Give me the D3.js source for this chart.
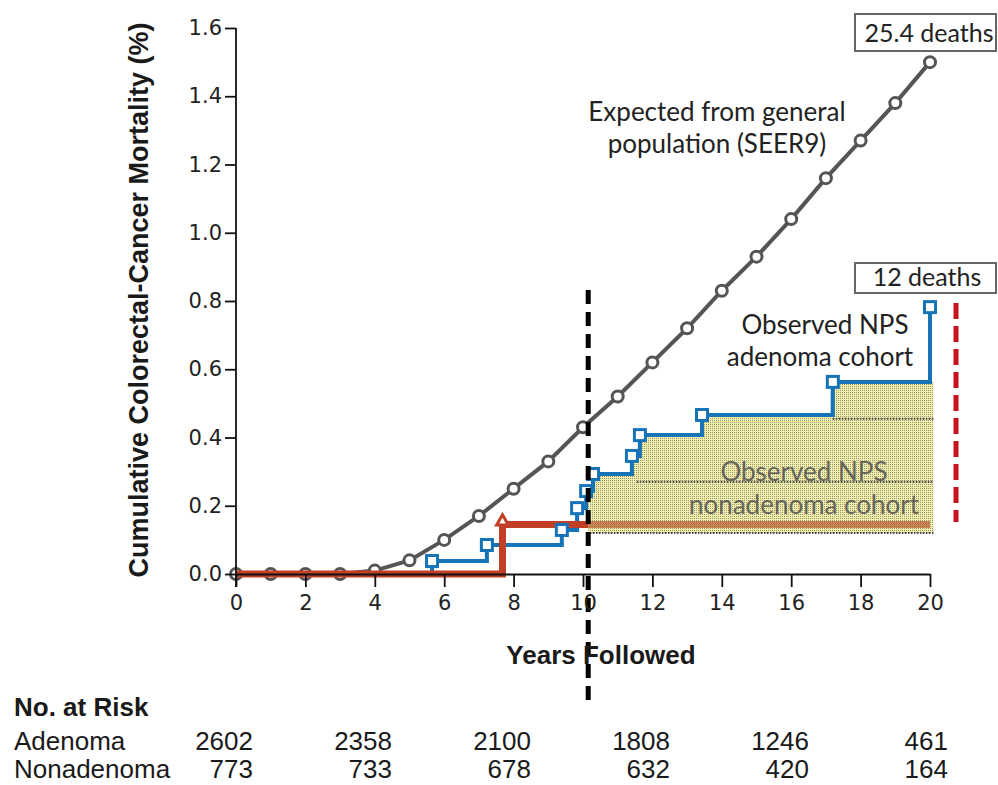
<!DOCTYPE html>
<html>
<head>
<meta charset="utf-8">
<script src="https://cdn.jsdelivr.net/npm/d3@7"></script>
<style>
  body { margin: 0; background: #fff; }
  svg { display: block; }
  .tick text { font-family: "DejaVu Sans", sans-serif; font-size: 21px; fill: #222; }
  .note { font-family: "Lato", sans-serif; font-size: 26px; fill: #222; }
  .cond { font-family: "Liberation Sans Narrow", "Liberation Sans", sans-serif; fill: #1a1a1a; }
</style>
</head>
<body>
<div class="graph"></div>
<script>
// Expected mortality from general population (SEER9), yearly
let expectedYears = [0, 1, 2, 3, 4, 5, 6, 7, 8, 9, 10, 11, 12, 13, 14, 15, 16, 17, 18, 19, 20];
let expectedValues = [0, 0, 0, 0, 0.01, 0.04, 0.10, 0.17, 0.25, 0.33, 0.43, 0.52, 0.62, 0.72, 0.83, 0.93, 1.04, 1.16, 1.27, 1.38, 1.50];

// Observed NPS adenoma cohort (step function, new level starts at each year)
let adenomaYears = [0, 5.65, 7.23, 9.39, 9.83, 10.09, 10.29, 11.41, 11.64, 13.43, 17.20, 20.0];
let adenomaValues = [0, 0.038, 0.085, 0.129, 0.193, 0.243, 0.293, 0.346, 0.407, 0.466, 0.563, 0.782];

// Observed NPS nonadenoma cohort
let nonadenomaYears = [0, 7.68, 20.0];
let nonadenomaValues = [0, 0.145, 0.145];

// Hatched band after the landmark
let landmarkYear = 10.15;
let bandEndYear = 20.1;
let bandBottom = 0.12;
let bandLineStarts = [10.2, 11.55, 17.2];
let bandLineLevels = [0.12, 0.27, 0.455];

let cutoffYear = 20.75;

// Axis ticks
let xTicks = [0, 2, 4, 6, 8, 10, 12, 14, 16, 18, 20];
let yTicks = [0, 0.2, 0.4, 0.6, 0.8, 1.0, 1.2, 1.4, 1.6];

// Number at risk table
let riskYears = [0, 4, 8, 12, 16, 20];
let riskAdenoma = [2602, 2358, 2100, 1808, 1246, 461];
let riskNonadenoma = [773, 733, 678, 632, 420, 164];

let width = 998;
let height = 785;

let svg = d3.select(".graph").append("svg")
  .attr("width", width)
  .attr("height", height);

let x = d3.scaleLinear().domain([0, 20]).range([236, 930]);
let y = d3.scaleLinear().domain([0, 1.6]).range([574, 28]);

// hatch pattern
let defs = svg.append("defs");
let pat = defs.append("pattern")
  .attr("id", "hatch")
  .attr("patternUnits", "userSpaceOnUse")
  .attr("width", 2).attr("height", 2);
pat.append("rect").attr("width", 2).attr("height", 2).attr("fill", "#f0ec9c").attr("opacity", 0.85);
pat.append("rect").attr("x", 0).attr("y", 0).attr("width", 1).attr("height", 1).attr("fill", "#6f6f60").attr("opacity", 0.7);

defs.append("clipPath").attr("id", "afterLandmark")
  .append("rect")
  .attr("x", x(landmarkYear)).attr("y", 0)
  .attr("width", width - x(landmarkYear)).attr("height", height);

let adenoma = adenomaYears.map((t, i) => ({ t: t, v: adenomaValues[i] }));
let nonadenoma = nonadenomaYears.map((t, i) => ({ t: t, v: nonadenomaValues[i] }));
let expected = expectedYears.map((t, i) => ({ t: t, v: expectedValues[i] }));

let stepLine = d3.line()
  .x(d => x(d.t))
  .y(d => y(d.v))
  .curve(d3.curveStepAfter);

// expected line
svg.append("path")
  .datum(expected)
  .attr("fill", "none")
  .attr("stroke", "#555")
  .attr("stroke-width", 4)
  .attr("d", d3.line().x(d => x(d.t)).y(d => y(d.v)));

svg.selectAll(".exp-pt")
  .data(expected)
  .join("circle")
  .attr("class", "exp-pt")
  .attr("cx", d => x(d.t))
  .attr("cy", d => y(d.v))
  .attr("r", 5.5)
  .attr("fill", "#fff")
  .attr("stroke", "#555")
  .attr("stroke-width", 3);

// adenoma step (under red)
svg.append("path")
  .datum(adenoma)
  .attr("fill", "none")
  .attr("stroke", "#1673b8")
  .attr("stroke-width", 4)
  .attr("d", stepLine);

// nonadenoma step
svg.append("path")
  .datum(nonadenoma)
  .attr("fill", "none")
  .attr("stroke", "#c23f27")
  .attr("stroke-width", 7)
  .attr("d", stepLine);

// hatched band: from landmark to end, under adenoma step
let bandTop = adenoma.filter(d => d.t > landmarkYear && d.t < 20);
let bandData = [{ t: landmarkYear, v: adenoma.filter(d => d.t <= landmarkYear).pop().v }]
  .concat(bandTop)
  .concat([{ t: bandEndYear, v: bandTop[bandTop.length - 1].v }]);

svg.append("path")
  .datum(bandData)
  .attr("fill", "url(#hatch)")
  .attr("d", d3.area()
    .x(d => x(d.t))
    .y0(y(bandBottom))
    .y1(d => y(d.v))
    .curve(d3.curveStepAfter));

// nonadenoma line seen through the hatch
svg.append("path")
  .datum(nonadenoma)
  .attr("clip-path", "url(#afterLandmark)")
  .attr("fill", "none")
  .attr("stroke", "#b5552e")
  .attr("stroke-width", 7)
  .attr("opacity", 0.6)
  .attr("d", stepLine);

svg.selectAll(".band-line")
  .data(bandLineLevels)
  .join("line")
  .attr("class", "band-line")
  .attr("x1", (d, i) => x(bandLineStarts[i]))
  .attr("x2", x(bandEndYear))
  .attr("y1", d => y(d))
  .attr("y2", d => y(d))
  .attr("stroke", "#444")
  .attr("stroke-width", 2)
  .attr("stroke-dasharray", "1.5,1.5");

// nonadenoma label inside band
svg.append("text")
  .attr("class", "note")
  .attr("x", 804).attr("y", 481)
  .attr("text-anchor", "middle")
  .style("fill", "#66655a")
  .text("Observed NPS");
svg.append("text")
  .attr("class", "note")
  .attr("x", 804).attr("y", 514)
  .attr("text-anchor", "middle")
  .style("fill", "#66655a")
  .text("nonadenoma cohort");

// adenoma line again on top of the band
svg.append("path")
  .datum(adenoma)
  .attr("clip-path", "url(#afterLandmark)")
  .attr("fill", "none")
  .attr("stroke", "#1673b8")
  .attr("stroke-width", 4)
  .attr("d", stepLine);

svg.selectAll(".aden-pt")
  .data(adenoma.slice(1))
  .join("rect")
  .attr("class", "aden-pt")
  .attr("x", d => x(d.t) - 5.5)
  .attr("y", d => y(d.v) - 5.5)
  .attr("width", 11)
  .attr("height", 11)
  .attr("fill", "#fff")
  .attr("stroke", "#1673b8")
  .attr("stroke-width", 3);

// triangle marker on nonadenoma
svg.selectAll(".non-pt")
  .data(nonadenoma.slice(1, 2))
  .join("path")
  .attr("class", "non-pt")
  .attr("transform", d => "translate(" + x(d.t) + "," + (y(d.v) - 3) + ")")
  .attr("d", d3.symbol(d3.symbolTriangle, 60))
  .attr("fill", "#fff")
  .attr("stroke", "#c23f27")
  .attr("stroke-width", 3);

// landmark dashed line
svg.append("line")
  .attr("x1", x(landmarkYear)).attr("x2", x(landmarkYear))
  .attr("y1", 290).attr("y2", 706)
  .attr("stroke", "#000")
  .attr("stroke-width", 5)
  .attr("stroke-dasharray", "14,8");

// red cutoff dashed line
svg.append("line")
  .attr("x1", x(cutoffYear)).attr("x2", x(cutoffYear))
  .attr("y1", 303).attr("y2", 522)
  .attr("stroke", "#c8111b")
  .attr("stroke-width", 5)
  .attr("stroke-dasharray", "16,7");

// axes
let yAxis = svg.append("g")
  .attr("transform", "translate(" + x(0) + ",0)")
  .call(d3.axisLeft(y).tickValues(yTicks).tickFormat(d3.format(".1f")).tickSize(11).tickSizeOuter(0).tickPadding(3));
yAxis.select(".domain").attr("d", "M0," + (y(0) + 13) + "V" + y(1.6));

let xAxis = svg.append("g")
  .attr("transform", "translate(0," + y(0) + ")")
  .call(d3.axisBottom(x).tickValues(xTicks).tickSize(13).tickSizeOuter(0).tickPadding(8));

svg.selectAll(".domain, .tick line").attr("stroke", "#111").attr("stroke-width", 1.8);
svg.selectAll(".tick text").attr("font-size", null).attr("font-family", null);

// axis titles
svg.append("text")
  .attr("class", "cond")
  .attr("transform", "translate(148,300) rotate(-90)")
  .attr("text-anchor", "middle")
  .attr("font-size", 27)
  .attr("font-weight", "bold")
  .text("Cumulative Colorectal-Cancer Mortality (%)");

svg.append("text")
  .attr("class", "cond")
  .attr("x", 601).attr("y", 664)
  .attr("text-anchor", "middle")
  .attr("font-size", 26)
  .attr("font-weight", "bold")
  .text("Years Followed");

// annotations
svg.append("text").attr("class", "note")
  .attr("x", 717).attr("y", 121).attr("text-anchor", "middle")
  .text("Expected from general");
svg.append("text").attr("class", "note")
  .attr("x", 717).attr("y", 153).attr("text-anchor", "middle")
  .text("population (SEER9)");

svg.append("text").attr("class", "note")
  .attr("x", 825).attr("y", 334).attr("text-anchor", "middle")
  .text("Observed NPS");
svg.append("text").attr("class", "note")
  .attr("x", 820).attr("y", 366).attr("text-anchor", "middle")
  .text("adenoma cohort");

svg.append("rect")
  .attr("x", 855).attr("y", 14).attr("width", 141).attr("height", 37)
  .attr("fill", "#fff").attr("stroke", "#666").attr("stroke-width", 2);
svg.append("text").attr("class", "note")
  .attr("x", 929).attr("y", 42).attr("text-anchor", "middle")
  .attr("font-size", 25).style("font-size", "25px")
  .text("25.4 deaths");

svg.append("rect")
  .attr("x", 855).attr("y", 263).attr("width", 141).attr("height", 30)
  .attr("fill", "#fff").attr("stroke", "#666").attr("stroke-width", 2);
svg.append("text").attr("class", "note")
  .attr("x", 927).attr("y", 286).attr("text-anchor", "middle")
  .style("font-size", "25px")
  .text("12 deaths");

// number at risk
let riskX = d3.scaleLinear().domain([0, 20]).range([253, 948]);

svg.append("text")
  .attr("class", "cond")
  .attr("x", 14).attr("y", 716)
  .attr("font-size", 26)
  .attr("font-weight", "bold")
  .text("No. at Risk");

let rows = [
  { label: "Adenoma", values: riskAdenoma, y: 750 },
  { label: "Nonadenoma", values: riskNonadenoma, y: 778 }
];

rows.forEach(r => {
  svg.append("text")
    .attr("class", "cond")
    .attr("x", 14).attr("y", r.y)
    .attr("font-size", 26)
    .text(r.label);
  svg.selectAll(null)
    .data(r.values)
    .join("text")
    .attr("class", "cond")
    .attr("x", (d, i) => riskX(riskYears[i]))
    .attr("y", r.y)
    .attr("text-anchor", "end")
    .attr("font-size", 26)
    .text(d => d);
});
</script>
</body>
</html>
